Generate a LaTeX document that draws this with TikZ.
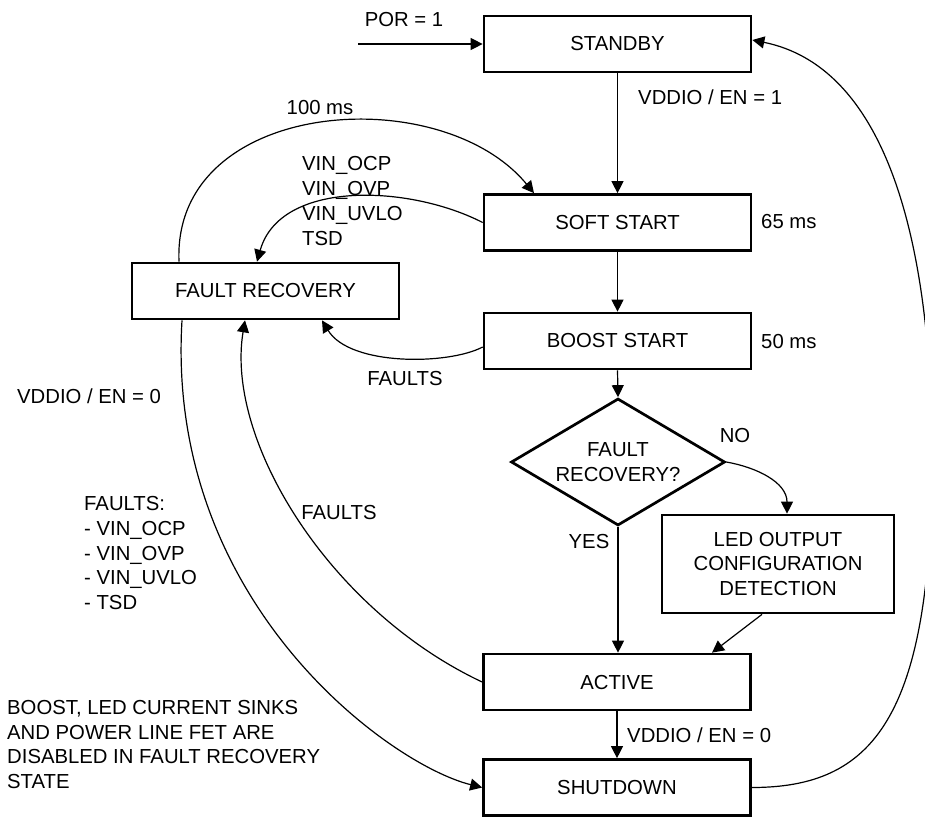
\documentclass[tikz,border=0pt]{standalone}
\usepackage{fontspec}
\setmainfont{Liberation Sans}
\usetikzlibrary{shapes.geometric,arrows.meta}
\tikzset{
  box/.style={draw, line width=2.7pt, minimum width=267pt, minimum height=56pt, inner sep=0pt, align=center},
  lbl/.style={inner sep=0pt, align=left},
  conn/.style={line width=1.2pt, -{Triangle[length=12pt,width=12pt]}},
  plain/.style={line width=1.2pt}
}
\begin{document}
\begin{tikzpicture}[x=1pt,y=1pt,font=\fontsize{20.3}{24.7}\selectfont]
\useasboundingbox (0,0) rectangle (925,-817);
% state boxes
\node[box] (standby) at (617.5,-44) {STANDBY};
\node[box] (soft) at (617.5,-222.5) {SOFT START};
\node[box] (boost) at (617.5,-341) {BOOST START};
\node[draw, line width=2.7pt, diamond, aspect=1.685, minimum width=214pt, minimum height=127pt, inner sep=0pt, align=center] (dia) at (618,-462) {FAULT\\RECOVERY?};
\node[box, minimum width=232pt, minimum height=98pt] (led) at (778,-564) {LED OUTPUT\\CONFIGURATION\\DETECTION};
\node[box] (active) at (617,-682) {ACTIVE};
\node[box] (shut) at (617,-787.5) {SHUTDOWN};
\node[box] (fr) at (265.5,-291) {FAULT RECOVERY};
% labels
\node[lbl] (lpor) at (404,-20) {POR = 1};
\node[lbl, anchor=west] (len1) at (638,-97) {VDDIO / EN = 1};
\node[lbl, anchor=west] (l65) at (761,-222) {65 ms};
\node[lbl, anchor=west] (l50) at (761,-342) {50 ms};
\node[lbl] (l100) at (320,-108) {100 ms};
\node[lbl, anchor=west] (lvin) at (302,-201) {VIN\_OCP\\VIN\_OVP\\VIN\_UVLO\\TSD};
\node[lbl] (lf1) at (405,-379) {FAULTS};
\node[lbl, anchor=west] (len0l) at (17,-396) {VDDIO / EN = 0};
\node[lbl, anchor=west] (lflist) at (84,-553) {FAULTS:\\- VIN\_OCP\\- VIN\_OVP\\- VIN\_UVLO\\- TSD};
\node[lbl] (lf2) at (339,-513) {FAULTS};
\node[lbl] (lno) at (735,-436) {NO};
\node[lbl] (lyes) at (589,-542) {YES};
\node[lbl, anchor=west] (lnote) at (7,-744.5) {BOOST, LED CURRENT SINKS\\AND POWER LINE FET ARE\\DISABLED IN FAULT RECOVERY\\STATE};
\node[lbl, anchor=west] (len0r) at (627,-735) {VDDIO / EN = 0};
% connectors
\coordinate (por) at (358,-44);
\draw[conn] (por) -- (standby.west);
\draw[conn] (standby.south) -- (soft.north);
\draw[conn] (soft.south) -- (boost.north);
\draw[conn] (boost.south) -- (dia.north);
\draw[conn] (dia.south) -- (dia.south |- active.north);
\draw[conn] (dia.east) to[out=-10,in=90] ([xshift=9pt]led.north);
\draw[conn] ([xshift=-16pt]led.south) -- ([xshift=95pt]active.north);
\draw[conn] (active.south) -- (shut.north);
% fault recovery loops
\draw[conn] ([xshift=-86.5pt]fr.north) .. controls +(-7,163) and +(-94,114) .. ([xshift=-83.5pt]soft.north);
\draw[conn] (soft.west) .. controls +(-74,38) and +(23,82) .. ([xshift=-8.5pt]fr.north);
\draw[conn] ([yshift=-6pt]boost.west) .. controls +(-34,-18) and +(28,-46) .. ([xshift=56.5pt]fr.south);
\draw[conn] (active.west) .. controls +(-153,72) and +(-20,-120) .. ([xshift=-20.5pt]fr.south);
\draw[conn] ([xshift=-83.5pt]fr.south) .. controls +(-17,-281) and +(-93,23) .. (shut.west);
% shutdown back to standby
\coordinate (rmax) at (932,-455);
\draw[conn] (shut.east) .. controls +(120,0) and +(0,-265) .. (rmax) .. controls +(0,175) and +(148,-30) .. ([yshift=4pt]standby.east);
\end{tikzpicture}
\end{document}
